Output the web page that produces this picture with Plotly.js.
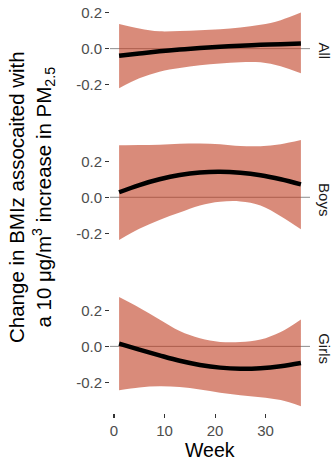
<!DOCTYPE html>
<html>
<head>
<meta charset="utf-8">
<script src="https://cdn.plot.ly/plotly-3.0.1.min.js"></script>
<style>html,body{margin:0;padding:0;background:#fff;}#chart{width:332px;height:463px;}</style>
</head>
<body>
<div id="chart"></div>
<script>
const weeks = [1, 5, 9, 13, 17, 21, 25, 29, 33, 37];
const groups = ["All", "Boys", "Girls"];

const allEst   = [-0.040, -0.027, -0.015, -0.005, 0.003, 0.010, 0.016, 0.021, 0.025, 0.028];
const allUpper = [0.137, 0.112, 0.096, 0.098, 0.102, 0.108, 0.118, 0.132, 0.158, 0.200];
const allLower = [-0.220, -0.165, -0.128, -0.108, -0.092, -0.083, -0.075, -0.076, -0.098, -0.137];

const boysEst   = [0.028, 0.068, 0.100, 0.124, 0.138, 0.142, 0.136, 0.122, 0.100, 0.072];
const boysUpper = [0.289, 0.290, 0.292, 0.297, 0.299, 0.295, 0.285, 0.284, 0.295, 0.318];
const boysLower = [-0.237, -0.175, -0.126, -0.085, -0.045, -0.025, -0.023, -0.045, -0.105, -0.178];

const girlsEst   = [0.015, -0.018, -0.050, -0.080, -0.103, -0.118, -0.124, -0.121, -0.110, -0.092];
const girlsUpper = [0.274, 0.215, 0.150, 0.085, 0.045, 0.025, 0.024, 0.038, 0.080, 0.150];
const girlsLower = [-0.244, -0.228, -0.222, -0.226, -0.240, -0.258, -0.272, -0.282, -0.298, -0.333];

const xTickVals = [0, 10, 20, 30];
const yTickVals = [-0.2, 0, 0.2];
const yTickText = ["-0.2", "0.0", "0.2"];
const xTitle = "Week";
const yTitle = "Change in BMIz assocaited with<br>a 10 μg/m<sup>3</sup> increase in PM<sub>2.5</sub>";

const series = [
  {est: allEst, up: allUpper, lo: allLower, ax: "y"},
  {est: boysEst, up: boysUpper, lo: boysLower, ax: "y2"},
  {est: girlsEst, up: girlsUpper, lo: girlsLower, ax: "y3"}
];

const FONT = "Liberation Sans, Arial, Helvetica, sans-serif";
const ribbon = "rgba(192,62,33,0.6)";
const traces = [];
series.forEach(s => {
  traces.push({x: weeks, y: s.up, yaxis: s.ax, xaxis: "x", mode: "lines",
    line: {width: 0, shape: "spline", color: ribbon}, showlegend: false, hoverinfo: "skip"});
  traces.push({x: weeks, y: s.lo, yaxis: s.ax, xaxis: "x", mode: "lines", fill: "tonexty",
    fillcolor: ribbon, line: {width: 0, shape: "spline", color: ribbon}, showlegend: false, hoverinfo: "skip"});
  traces.push({x: weeks, y: s.est, yaxis: s.ax, xaxis: "x", mode: "lines",
    line: {width: 4.5, shape: "spline", color: "#000"}, showlegend: false});
});

const yBase = {
  tickvals: yTickVals, ticktext: yTickText, ticks: "outside", ticklen: 4, tickwidth: 1.1,
  tickcolor: "#333", showgrid: false, zeroline: false, showline: false,
  tickfont: {family: FONT, size: 15, color: "#4d4d4d"}, anchor: "x", fixedrange: true
};

const layout = {
  width: 332, height: 463,
  margin: {l: 110, r: 22, t: 0, b: 50},
  paper_bgcolor: "#fff", plot_bgcolor: "#fff",
  font: {family: FONT},
  xaxis: {range: [-0.8, 38.8], anchor: "y3", tickvals: xTickVals, ticks: "outside", ticklen: 4,
    tickwidth: 1.1, tickcolor: "#333", showgrid: false, zeroline: false, showline: false,
    tickfont: {family: FONT, size: 15, color: "#4d4d4d"}},
  yaxis:  Object.assign({}, yBase, {domain: [0.7208, 1.0], range: [-0.37, 0.27]}),
  yaxis2: Object.assign({}, yBase, {domain: [0.3610, 0.6753], range: [-0.37, 0.351]}),
  yaxis3: Object.assign({}, yBase, {domain: [0.0, 0.3143], range: [-0.37, 0.351]}),
  shapes: ["y", "y2", "y3"].map(a => ({type: "line", xref: "paper", x0: 0, x1: 1, yref: a, y0: 0, y1: 0,
    line: {color: "rgba(0,0,0,0.45)", width: 1}, layer: "below"})),
  annotations: groups.map((g, i) => ({text: g, textangle: 90, xref: "paper", x: 1.075, xanchor: "center",
    yref: ["y", "y2", "y3"][i], y: -0.01, yanchor: "middle", showarrow: false,
    font: {family: FONT, size: 15, color: "#1a1a1a"}})).concat([{
    text: yTitle,
    textangle: -90, xref: "paper", x: -0.395, xanchor: "center", yref: "paper", y: 0.523, yanchor: "middle",
    showarrow: false, font: {family: FONT, size: 20.5, color: "#000"}}, {
    text: xTitle, xref: "paper", x: 0.5, xanchor: "center", yref: "paper", y: -0.089, yanchor: "middle",
    showarrow: false, font: {family: FONT, size: 19.5, color: "#000"}}])
};

Plotly.newPlot("chart", traces, layout, {displayModeBar: false, staticPlot: true});
</script>
</body>
</html>
